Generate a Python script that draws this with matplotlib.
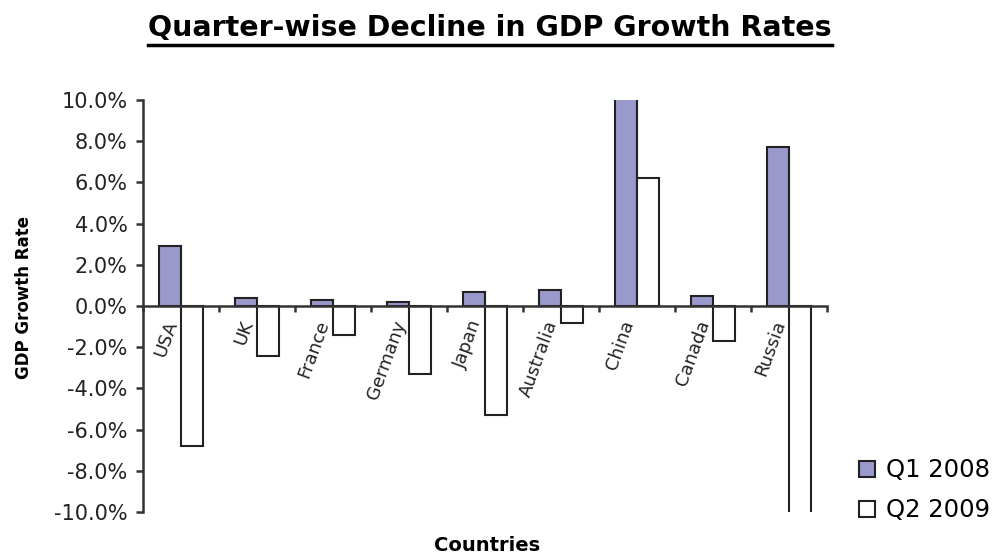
import matplotlib
matplotlib.use("Agg")
import matplotlib.pyplot as plt
from matplotlib.lines import Line2D
from matplotlib.ticker import FuncFormatter, MultipleLocator
import numpy as np

countries = ["USA", "UK", "France", "Germany", "Japan", "Australia", "China", "Canada", "Russia"]
q1_2008 = [2.9, 0.4, 0.3, 0.2, 0.7, 0.8, 10.6, 0.5, 7.7]
q2_2009 = [-6.8, -2.4, -1.4, -3.3, -5.3, -0.8, 6.2, -1.7, -10.9]
series_labels = ["Q1 2008", "Q2 2009"]

fig = plt.figure(figsize=(9.92, 5.56), dpi=100)
ax = fig.add_axes([0.144, 0.079, 0.690, 0.741])

x = np.arange(len(countries))
w = 0.29
edge = "#222222"
ax.bar(x - w / 2, q1_2008, w, color="#9999cc", edgecolor=edge, linewidth=1.5,
       label=series_labels[0])
ax.bar(x + w / 2, q2_2009, w, color="white", edgecolor=edge, linewidth=1.5,
       label=series_labels[1])

ax.set_xlim(-0.5, len(countries) - 0.5)
ax.set_ylim(-10, 10)
ax.yaxis.set_major_locator(MultipleLocator(2))
ax.yaxis.set_major_formatter(FuncFormatter(lambda v, p: f"{v:.1f}%"))

for s in ["top", "right"]:
    ax.spines[s].set_visible(False)
ax.spines["bottom"].set_position(("data", 0))
for s in ["left", "bottom"]:
    ax.spines[s].set_linewidth(1.8)
    ax.spines[s].set_color("#333333")

ax.set_xticks(x)
ax.set_xticklabels(countries, rotation=70, ha="right", va="bottom",
                   rotation_mode="anchor", fontsize=13, color="#222222")
ax.set_xticks(np.arange(len(countries) + 1) - 0.5, minor=True)
ax.tick_params(axis="x", which="major", length=0, pad=13)
ax.tick_params(axis="x", which="minor", length=4, width=1.8, color="#333333",
               direction="out")
ax.tick_params(axis="y", length=5, width=1.8, color="#333333", labelsize=15,
               labelcolor="#222222", pad=6)

ax.set_ylabel("GDP Growth Rate", fontsize=12, fontweight="bold")
ax.yaxis.set_label_coords(-0.16, 0.52)
ax.set_xlabel("Countries", fontsize=14, fontweight="bold")
ax.xaxis.set_label_coords(0.503, -0.058)

fig.legend(loc="center left", bbox_to_anchor=(0.866, 0.118), frameon=False,
           fontsize=17.5, handlelength=0.65, handleheight=0.65, handletextpad=0.45,
           labelspacing=0.65, borderpad=0, borderaxespad=0)

title = fig.text(0.494, 0.95, "Quarter-wise Decline in GDP Growth Rates",
                 ha="center", va="center", fontsize=20.5, fontweight="bold")
fig.canvas.draw()
bb = title.get_window_extent().transformed(fig.transFigure.inverted())
fig.add_artist(Line2D([bb.x0, bb.x1], [bb.y0 - 0.006, bb.y0 - 0.006],
                      transform=fig.transFigure, color="black", linewidth=2.5))

fig.savefig("out.png", dpi=100)
